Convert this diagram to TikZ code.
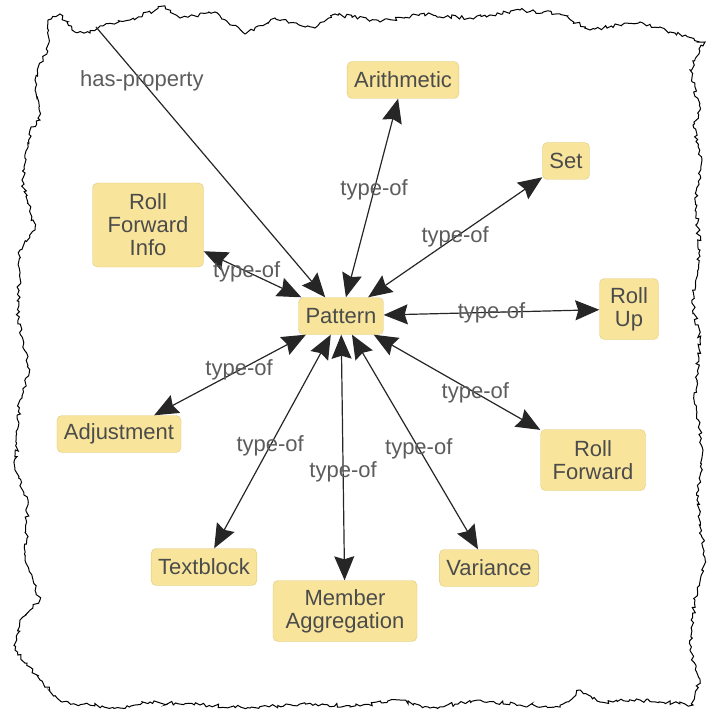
\documentclass[tikz,border=0pt]{standalone}
\usepackage{fontspec}
\setmainfont{Liberation Sans}
\usetikzlibrary{arrows.meta,decorations.pathmorphing}
\definecolor{boxfill}{RGB}{248,229,155}
\definecolor{boxline}{RGB}{222,202,125}
\definecolor{txtgray}{RGB}{75,75,75}
\definecolor{lblgray}{RGB}{92,92,92}
\tikzset{
  bigtip/.tip={Stealth[length=24pt,width=20pt,inset=3pt]},
  concept/.style={draw=boxline,fill=boxfill,rounded corners=5pt,align=center,text=txtgray,
    font=\fontsize{22}{23}\selectfont,inner xsep=7pt,inner ysep=3pt,minimum height=37pt},
  rel/.style={line width=1.2pt,black!85,bigtip-bigtip},
  hasrel/.style={line width=1.2pt,black!85,-bigtip},
  rellabel/.style={text=lblgray,font=\fontsize{22}{23}\selectfont,inner sep=1pt}
}
\begin{document}
\begin{tikzpicture}[x=1pt,y=1pt,yscale=-1,xscale=1]
\useasboundingbox (0,0) rectangle (717,719);
\draw [line width=1pt,decorate,decoration={random steps,segment length=3pt,amplitude=2pt}]
  (48,20) -- (60,14) -- (72,30) -- (90,33) -- (100,26) -- (130,20) -- (165,6) -- (180,18)
  -- (215,12) -- (245,34) -- (275,18) -- (315,28) -- (335,14) -- (380,22) -- (420,14)
  -- (470,18) -- (520,10) -- (560,14) -- (590,30) -- (640,22) -- (670,32) -- (705,42)
  -- (690,70) -- (700,110) -- (693,125) -- (702,160) -- (695,200) -- (700,250) -- (692,300)
  -- (700,340) -- (694,400) -- (703,450) -- (697,500) -- (705,560) -- (695,600) -- (690,650)
  -- (700,680) -- (693,705) -- (640,700) -- (600,702) -- (580,690) -- (560,707) -- (520,705)
  -- (480,700) -- (430,708) -- (400,700) -- (360,706) -- (300,704) -- (250,708) -- (200,705)
  -- (150,702) -- (120,708) -- (62,702) -- (40,680) -- (15,650) -- (20,620) -- (40,600)
  -- (25,560) -- (28,500) -- (15,470) -- (20,400) -- (30,370) -- (18,320) -- (20,250)
  -- (35,230) -- (22,180) -- (30,130) -- (40,120) -- (35,80) -- (48,45) -- cycle;
\coordinate (hpstart) at (96,27);
\node [concept] (pat) at (341,316) {Pattern};
\node [concept] (arith) at (403,80) {Arithmetic};
\node [concept] (set) at (566,161) {Set};
\node [concept,minimum width=111pt,minimum height=84pt] (rfinfo) at (148,225) {Roll\\Forward\\Info};
\node [concept,minimum width=59pt,minimum height=61pt] (rollup) at (629,309) {Roll\\Up};
\node [concept] (adjust) at (119,434) {Adjustment};
\node [concept,minimum width=105pt,minimum height=61pt] (rollfwd) at (593,460) {Roll\\Forward};
\node [concept] (textblk) at (204,567) {Textblock};
\node [concept] (variance) at (489,568) {Variance};
\node [concept,minimum width=144pt,minimum height=61pt] (memagg) at (345,611) {Member\\Aggregation};
\draw [hasrel] (hpstart) -- node[rellabel,pos=0.2] {has-property} (pat);
\draw [rel] (pat) -- node[rellabel,pos=0.54] {type-of} (arith);
\draw [rel] (pat) -- node[rellabel,pos=0.5] {type-of} (set);
\draw [rel] (rfinfo) -- node[rellabel,pos=0.44] {type-of} (pat);
\draw [rel] (pat) -- node[rellabel,pos=0.5] {type-of} (rollup);
\draw [rel] (pat) -- node[rellabel,pos=0.61] {type-of} (rollfwd);
\draw [rel] (pat) -- node[rellabel,pos=0.53] {type-of} (variance);
\draw [rel] (pat) -- node[rellabel,pos=0.56] {type-of} (memagg);
\draw [rel] (pat) -- node[rellabel,pos=0.52] {type-of} (textblk);
\draw [rel] (pat) -- node[rellabel,pos=0.44] {type-of} (adjust);
\end{tikzpicture}
\end{document}
